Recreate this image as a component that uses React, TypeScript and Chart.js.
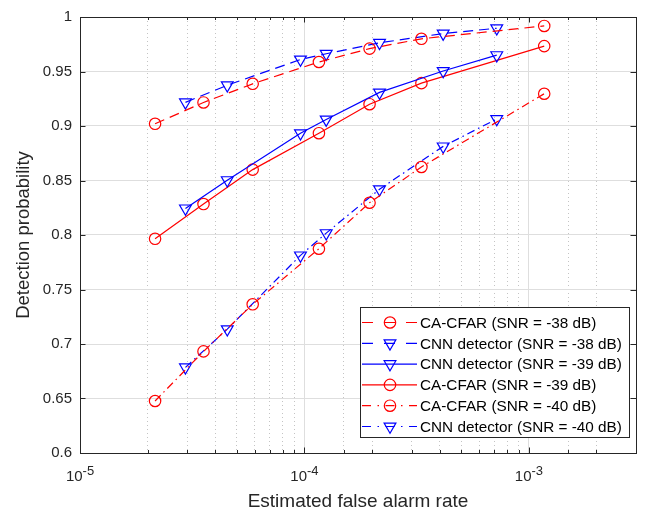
import React, { useEffect, useRef } from 'react';
import { Chart, registerables } from 'chart.js';

Chart.register(...registerables);

// ---------- data ----------
const caFalseAlarm = [2.16e-5, 3.55e-5, 5.88e-5, 1.16e-4, 1.95e-4, 3.32e-4, 1.17e-3];
const cnnFalseAlarm = [2.95e-5, 4.53e-5, 9.6e-5, 1.25e-4, 2.16e-4, 4.15e-4, 7.19e-4];

const caCfar38 = [0.902, 0.9216, 0.9387, 0.9587, 0.971, 0.98, 0.9918];
const cnn38 = [0.9217, 0.9374, 0.961, 0.9663, 0.9763, 0.9848, 0.9897];
const cnn39 = [0.8244, 0.8503, 0.8934, 0.9059, 0.9308, 0.9505, 0.965];
const caCfar39 = [0.7965, 0.8284, 0.86, 0.8934, 0.92, 0.9393, 0.9733];
const caCfar40 = [0.6477, 0.6932, 0.7364, 0.7874, 0.8296, 0.8624, 0.9296];
const cnn40 = [0.6786, 0.7136, 0.7813, 0.8017, 0.842, 0.8813, 0.9064];

const seriesLabels = [
  'CA-CFAR (SNR = -38 dB)',
  'CNN detector (SNR = -38 dB)',
  'CNN detector (SNR = -39 dB)',
  'CA-CFAR (SNR = -39 dB)',
  'CA-CFAR (SNR = -40 dB)',
  'CNN detector (SNR = -40 dB)',
];

const xMajorTicks = [1e-5, 1e-4, 1e-3];
const xTickBase = '10';
const xTickExponents = ['-5', '-4', '-3'];
const xTitle = 'Estimated false alarm rate';
const yTitle = 'Detection probability';

// ---------- styles ----------
const FONT = "'Liberation Sans', Arial, Helvetica, sans-serif";
const AXIS = '#262626';
const RED = '#ff0000';
const BLUE = '#0000ff';
const DASH = [10, 6];
const DASHDOT = [8, 4, 1.5, 4];
const LEGEND_DASH = [11, 11];
const LEGEND_DASHDOT = [9, 6.5, 1.5, 6.5];

const toPoints = (xs: number[], ys: number[]) => xs.map((x, i) => ({ x, y: ys[i] }));

const isMajor = (v: number) => {
  const l = Math.log10(v);
  return Math.abs(l - Math.round(l)) < 1e-6;
};

const makeDataset = (label: string, xs: number[], ys: number[], color: string, dash: number[], marker: 'circle' | 'triangle') => ({
  label,
  data: toPoints(xs, ys),
  borderColor: color,
  backgroundColor: color,
  borderWidth: 1.2,
  borderDash: dash,
  pointStyle: marker,
  pointRotation: marker === 'triangle' ? 180 : 0,
  pointRadius: marker === 'triangle' ? 6.8 : 5.7,
  pointHoverRadius: marker === 'triangle' ? 6.8 : 5.7,
  pointBorderColor: color,
  pointBackgroundColor: 'rgba(0,0,0,0)',
  pointBorderWidth: 1.2,
  fill: false,
  tension: 0,
});

const datasets = [
  makeDataset(seriesLabels[0], caFalseAlarm, caCfar38, RED, DASH, 'circle'),
  makeDataset(seriesLabels[1], cnnFalseAlarm, cnn38, BLUE, DASH, 'triangle'),
  makeDataset(seriesLabels[2], cnnFalseAlarm, cnn39, BLUE, [], 'triangle'),
  makeDataset(seriesLabels[3], caFalseAlarm, caCfar39, RED, [], 'circle'),
  makeDataset(seriesLabels[4], caFalseAlarm, caCfar40, RED, DASHDOT, 'circle'),
  makeDataset(seriesLabels[5], cnnFalseAlarm, cnn40, BLUE, DASHDOT, 'triangle'),
];

function drawMarker(ctx: CanvasRenderingContext2D, style: string, x: number, y: number, r: number) {
  ctx.beginPath();
  if (style === 'triangle') {
    for (let k = 0; k < 3; k++) {
      const ang = Math.PI + (k * 2 * Math.PI) / 3;
      const px = x + Math.sin(ang) * r;
      const py = y - Math.cos(ang) * r;
      if (k === 0) ctx.moveTo(px, py);
      else ctx.lineTo(px, py);
    }
    ctx.closePath();
  } else {
    ctx.arc(x, y, r, 0, Math.PI * 2);
  }
  ctx.stroke();
}

const matlabPlugin = {
  id: 'matlabAxes',
  afterDraw(chart: any) {
    const { ctx, chartArea: a, scales } = chart;
    const xs = scales.x;
    const ys = scales.y;
    ctx.save();

    // inward tick marks
    ctx.strokeStyle = AXIS;
    ctx.lineWidth = 1;
    ctx.setLineDash([]);
    ctx.beginPath();
    xs.ticks.forEach((t: any) => {
      const px = Math.round(xs.getPixelForValue(t.value)) + 0.5;
      const len = isMajor(t.value) ? 5.5 : 3;
      ctx.moveTo(px, a.bottom);
      ctx.lineTo(px, a.bottom - len);
      ctx.moveTo(px, a.top);
      ctx.lineTo(px, a.top + len);
    });
    ys.ticks.forEach((t: any) => {
      const py = Math.round(ys.getPixelForValue(t.value)) + 0.5;
      ctx.moveTo(a.left, py);
      ctx.lineTo(a.left + 5.5, py);
      ctx.moveTo(a.right, py);
      ctx.lineTo(a.right - 5.5, py);
    });
    ctx.stroke();

    // box
    ctx.strokeRect(a.left + 0.5, a.top + 0.5, a.right - a.left, a.bottom - a.top);

    // x tick labels 10^n
    ctx.fillStyle = AXIS;
    ctx.textAlign = 'left';
    ctx.textBaseline = 'alphabetic';
    xMajorTicks.forEach((v, i) => {
      const px = xs.getPixelForValue(v);
      ctx.font = `15px ${FONT}`;
      const wb = ctx.measureText(xTickBase).width;
      ctx.font = `13px ${FONT}`;
      const we = ctx.measureText(xTickExponents[i]).width;
      const left = px - (wb + we) / 2;
      ctx.font = `15px ${FONT}`;
      ctx.fillText(xTickBase, left, a.bottom + 28);
      ctx.font = `13px ${FONT}`;
      ctx.fillText(xTickExponents[i], left + wb, a.bottom + 21.5);
    });

    // legend
    const fontSize = 15.3;
    ctx.font = `${fontSize}px ${FONT}`;
    const labels = chart.data.datasets.map((d: any) => d.label);
    const maxW = Math.max(...labels.map((l: string) => ctx.measureText(l).width));
    const rowH = 20.8;
    const boxW = 60 + maxW + 7;
    const boxH = rowH * labels.length + 5;
    const right = a.right - 7;
    const bottom = a.bottom - 16;
    const left = Math.round(right - boxW) + 0.5;
    const top = Math.round(bottom - boxH) + 0.5;
    ctx.fillStyle = '#ffffff';
    ctx.fillRect(left, top, right - left, bottom - top);
    ctx.strokeStyle = AXIS;
    ctx.lineWidth = 1;
    ctx.strokeRect(left, top, Math.round(right - left), Math.round(bottom - top));

    chart.data.datasets.forEach((d: any, i: number) => {
      const cy = top + 15 + i * rowH;
      const dash = d.borderDash && d.borderDash.length === 2 ? LEGEND_DASH : d.borderDash && d.borderDash.length === 4 ? LEGEND_DASHDOT : [];
      ctx.strokeStyle = d.borderColor;
      ctx.lineWidth = d.borderWidth;
      ctx.setLineDash(dash);
      ctx.beginPath();
      ctx.moveTo(left + 1.5, cy);
      ctx.lineTo(left + 56.5, cy);
      ctx.stroke();
      ctx.setLineDash([]);
      ctx.lineWidth = d.pointBorderWidth;
      drawMarker(ctx, d.pointStyle, left + 29.5, cy, d.pointRadius);
      ctx.fillStyle = '#000000';
      ctx.textBaseline = 'middle';
      ctx.font = `${fontSize}px ${FONT}`;
      ctx.fillText(d.label, left + 59.5, cy + 1);
    });

    ctx.restore();
  },
};

export default function App() {
  const ref = useRef<HTMLCanvasElement>(null);

  useEffect(() => {
    if (!ref.current) return;
    Chart.defaults.font.family = FONT;
    const chart = new Chart(ref.current, {
      type: 'line',
      data: { datasets: datasets as any },
      options: {
        animation: false,
        responsive: false,
        devicePixelRatio: 1,
        layout: { padding: { left: 0, top: 14, right: 21, bottom: 0 } },
        plugins: {
          legend: { display: false },
          tooltip: { enabled: false },
        },
        scales: {
          x: {
            type: 'logarithmic',
            min: 1e-5,
            max: 3e-3,
            afterFit: (s: any) => {
              s.height = 58;
            },
            ticks: { display: false },
            grid: {
              drawTicks: false,
              lineWidth: 1,
              color: (c: any) => (c.tick && !isMajor(c.tick.value) ? '#c4c4c4' : '#dedede'),
            },
            border: {
              display: false,
              dash: (c: any) => (c.tick && !isMajor(c.tick.value) ? [1, 3] : []),
            },
            title: {
              display: true,
              text: xTitle,
              color: AXIS,
              font: { size: 19, family: FONT },
              padding: { top: 0, bottom: -2.5 },
            },
          },
          y: {
            type: 'linear',
            min: 0.6,
            max: 1,
            afterFit: (s: any) => {
              s.width = 80;
            },
            ticks: {
              stepSize: 0.05,
              color: AXIS,
              padding: 8,
              font: { size: 15, family: FONT },
              callback: (v: any) => parseFloat(Number(v).toFixed(2)).toString(),
            },
            grid: { drawTicks: false, color: '#dedede', lineWidth: 1 },
            border: { display: false },
            title: {
              display: true,
              text: yTitle,
              color: AXIS,
              font: { size: 18.5, family: FONT },
              padding: { top: 12.6, bottom: 0 },
            },
          },
        },
      },
      plugins: [matlabPlugin],
    } as any);
    return () => chart.destroy();
  }, []);

  return (
    <div style={{ position: 'absolute', left: 0, top: 0, width: 657, height: 511, background: '#ffffff' }}>
      <canvas ref={ref} width={657} height={511} style={{ display: 'block', width: 657, height: 511 }} />
    </div>
  );
}
